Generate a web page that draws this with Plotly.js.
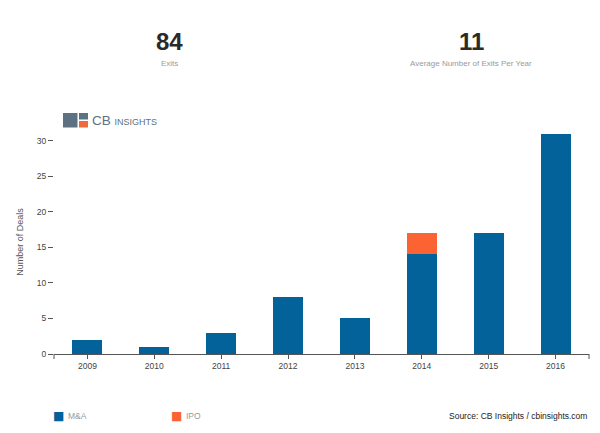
<!DOCTYPE html>
<html>
<head>
<meta charset="utf-8">
<script src="https://cdn.plot.ly/plotly-3.0.1.min.js"></script>
<style>html,body{margin:0;padding:0;background:#fff;}#chart{width:600px;height:433px;}</style>
</head>
<body>
<div id="chart"></div>
<script>
// ---- data ----
const years = ["2009","2010","2011","2012","2013","2014","2015","2016"];
const mna = [2, 1, 3, 8, 5, 14, 17, 31];
const ipo = [0, 0, 0, 0, 0, 3, 0, 0];
const seriesNames = ["M&A", "IPO"];
const seriesColors = ["#04629b", "#fb6432"];
const yTicks = [0, 5, 10, 15, 20, 25, 30];
const statValues = ["84", "11"];
const statLabels = ["Exits", "Average Number of Exits Per Year"];
const yTitle = "Number of Deals";
const sourceText = "Source: CB Insights / cbinsights.com";

// ---- layout helpers ----
const W = 600, H = 433;
const M = {l: 54, r: 11, t: 130, b: 79};
const PW = W - M.l - M.r, PH = H - M.t - M.b;
const xp = px => (px - M.l) / PW;
const yp = py => (H - M.b - py) / PH;
const FONT = "Liberation Sans, Arial, sans-serif";

const traces = [
  {type: "bar", x: years, y: mna, name: seriesNames[0], marker: {color: seriesColors[0]}, width: 0.45, hoverinfo: "x+y+name"},
  {type: "bar", x: years, y: ipo, name: seriesNames[1], marker: {color: seriesColors[1]}, width: 0.45, hoverinfo: "x+y+name"}
];

const annotations = [
  {text: "<b>" + statValues[0] + "</b>", x: xp(169), y: yp(41), font: {size: 24, color: "#2a2a2a", family: FONT}},
  {text: statLabels[0], x: xp(169), y: yp(64), font: {size: 8, color: "#9a9a9a", family: FONT}},
  {text: "<b>" + statValues[1] + "</b>", x: xp(471), y: yp(41), font: {size: 24, color: "#2a2a2a", family: FONT}},
  {text: statLabels[1], x: xp(471), y: yp(64), font: {size: 8, color: "#9a9a9a", family: FONT}},
  {text: "CB <span style='font-size:9px'>INSIGHTS</span>", x: xp(90), y: yp(120.5), xanchor: "left", font: {size: 13.5, color: "#5c7282", family: FONT}},
  // legend
  {text: "■", x: xp(51), y: yp(416), xanchor: "left", font: {size: 12, color: seriesColors[0], family: "DejaVu Sans"}},
  {text: seriesNames[0], x: xp(66), y: yp(416), xanchor: "left", font: {size: 8.5, color: "#9a9a9a", family: FONT}},
  {text: "■", x: xp(169), y: yp(416), xanchor: "left", font: {size: 12, color: seriesColors[1], family: "DejaVu Sans"}},
  {text: seriesNames[1], x: xp(184), y: yp(416), xanchor: "left", font: {size: 8.5, color: "#9a9a9a", family: FONT}},
  {text: sourceText, x: xp(589), y: yp(416), xanchor: "right", font: {size: 8.5, color: "#222", family: FONT}}
].map(a => Object.assign({xref: "paper", yref: "paper", showarrow: false, yanchor: "middle", xanchor: "center"}, a));

const shapes = [
  // CB Insights logo pieces
  {type: "rect", x0: xp(63), x1: xp(77.5), y0: yp(113), y1: yp(127.5), fillcolor: "#5c7282", line: {width: 0}},
  {type: "rect", x0: xp(79), x1: xp(88), y0: yp(113), y1: yp(119.5), fillcolor: "#5c7282", line: {width: 0}},
  {type: "rect", x0: xp(79), x1: xp(88), y0: yp(121), y1: yp(127.5), fillcolor: "#ee6a3a", line: {width: 0}},
  // outer ticks at ends of x axis
  {type: "line", x0: 0, x1: 0, y0: 0, y1: yp(359), line: {color: "#555", width: 1}},
  {type: "line", x0: 1, x1: 1, y0: 0, y1: yp(359), line: {color: "#555", width: 1}}
].map(s => Object.assign({xref: "paper", yref: "paper", layer: "above"}, s));

const layout = {
  width: W, height: H,
  margin: M,
  paper_bgcolor: "#fff", plot_bgcolor: "#fff",
  barmode: "stack",
  showlegend: false,
  font: {family: FONT, size: 9, color: "#444"},
  xaxis: {
    type: "category",
    showgrid: false, zeroline: false,
    showline: true, linecolor: "#555", linewidth: 1,
    ticks: "outside", ticklen: 4, tickcolor: "#555",
    tickfont: {size: 8.5, color: "#444", family: FONT},
    fixedrange: true
  },
  yaxis: {
    range: [0, 31.5],
    tickvals: yTicks,
    showgrid: false, zeroline: false, showline: false,
    ticks: "outside", ticklen: 5, tickcolor: "#555",
    tickfont: {size: 8.5, color: "#444", family: FONT},
    title: {text: yTitle, font: {size: 9, color: "#555", family: FONT}, standoff: 11},
    fixedrange: true
  },
  annotations: annotations,
  shapes: shapes
};

Plotly.newPlot("chart", traces, layout, {displayModeBar: false, staticPlot: true});
</script>
</body>
</html>
